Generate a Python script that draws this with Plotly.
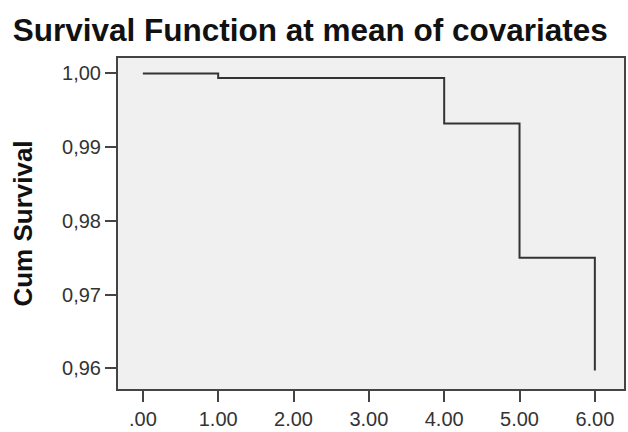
import plotly.graph_objects as go

time = [0, 1, 4, 5, 6]
cum_survival = [1.0000, 0.9994, 0.9932, 0.9750, 0.9597]

x_tickvals = [0, 1, 2, 3, 4, 5, 6]
x_ticktext = [".00", "1.00", "2.00", "3.00", "4.00", "5.00", "6.00"]
y_tickvals = [0.96, 0.97, 0.98, 0.99, 1.00]
y_ticktext = ["0,96", "0,97", "0,98", "0,99", "1,00"]

fig = go.Figure()
fig.add_trace(go.Scatter(
    x=time, y=cum_survival, mode="lines", line_shape="hv",
    line=dict(color="#333333", width=2), showlegend=False, hoverinfo="skip"))

fig.update_layout(
    width=628, height=432,
    margin=dict(l=118, r=2, t=58, b=38),
    paper_bgcolor="white", plot_bgcolor="#f0f0f0",
    font=dict(family="Liberation Sans, Arial, sans-serif", color="#333333"),
    title=dict(text="<b>Survival Function at mean of covariates</b>",
               x=0.494, xanchor="center", y=0.957, yanchor="top",
               font=dict(size=31.5, color="#111111")),
)
fig.update_xaxes(
    range=[-0.33, 6.387], tickvals=x_tickvals, ticktext=x_ticktext,
    showgrid=False, zeroline=False, showline=True, mirror=True,
    linecolor="#444444", linewidth=2, ticks="outside", ticklen=11,
    tickwidth=2, tickcolor="#444444", tickfont=dict(size=20, color="#333333"))
fig.update_yaxes(
    range=[0.9572, 1.0021], tickvals=y_tickvals, ticktext=y_ticktext,
    showgrid=False, zeroline=False, showline=True, mirror=True,
    linecolor="#444444", linewidth=2, ticks="outside", ticklen=11,
    tickwidth=2, tickcolor="#444444", tickfont=dict(size=20, color="#333333"),
    title=dict(text="<b>Cum Survival</b>", font=dict(size=26, color="#111111"), standoff=22))

fig.write_html("out.html", config={"displayModeBar": False},
               post_script="document.body.style.margin='0';")
